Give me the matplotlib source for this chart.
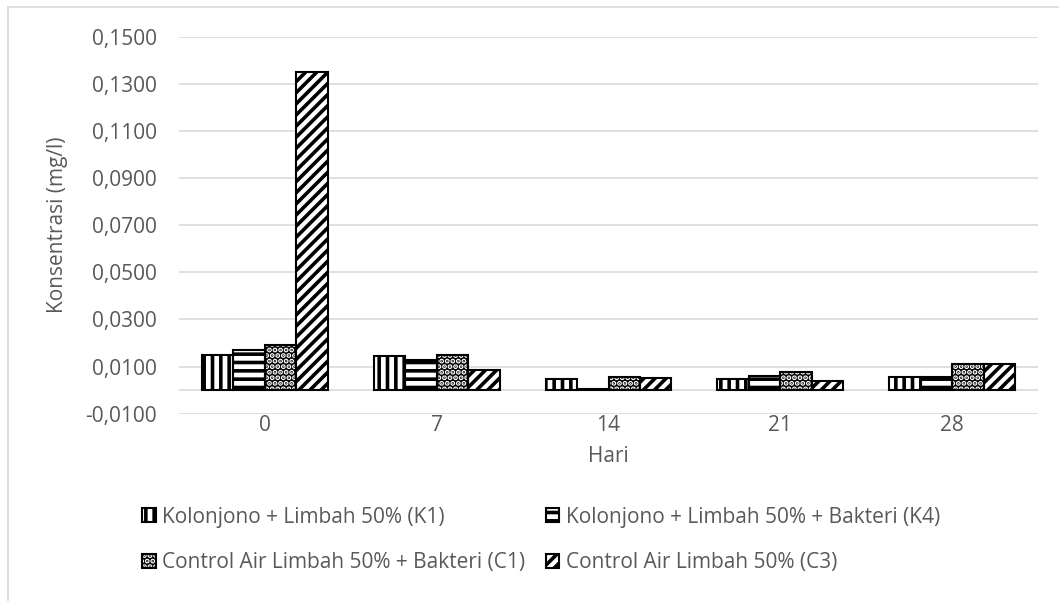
import matplotlib.pyplot as plt
from matplotlib.patches import Patch
from matplotlib.legend_handler import HandlerTuple
import numpy as np

plt.rcParams['font.family'] = ['Open Sans', 'DejaVu Sans']
plt.rcParams['hatch.linewidth'] = 2.6

# Data
hari = ['0', '7', '14', '21', '28']
K1 = [0.0150, 0.0145, 0.0047, 0.0047, 0.0054]
K4 = [0.0171, 0.0128, 0.0005, 0.0060, 0.0054]
C1 = [0.0192, 0.0151, 0.0055, 0.0079, 0.0109]
C3 = [0.1350, 0.0086, 0.0050, 0.0039, 0.0109]

labels = ['Kolonjono + Limbah 50% (K1)',
          'Kolonjono + Limbah 50% + Bakteri (K4)',
          'Control Air Limbah 50% + Bakteri (C1)',
          'Control Air Limbah 50% (C3)']
yticks = [-0.01, 0.01, 0.03, 0.05, 0.07, 0.09, 0.11, 0.13, 0.15]

txt = '#595959'
grid = '#d9d9d9'

fig = plt.figure(figsize=(10.59, 6.01), dpi=100)
ax = fig.add_axes([179 / 1059, 1 - 413.7 / 601, 859 / 1059, 377 / 601])

x = np.arange(len(hari))
w = 0.183
# (face, hatch colour, hatch) per series
styles = [('white', 'black', '||'),
          ('white', 'black', '--'),
          ('black', 'white', '...'),
          ('white', 'black', '///')]

handles = []
for i, (vals, (fc, hc, h)) in enumerate(zip([K1, K4, C1, C3], styles)):
    pos = x + (i - 1.5) * w
    ax.bar(pos, vals, w, color=fc, edgecolor=hc, hatch=h, linewidth=0, zorder=3)
    ax.bar(pos, vals, w, fill=False, edgecolor='black', linewidth=1.5, zorder=4)
    handles.append((Patch(facecolor=fc, edgecolor=hc, hatch=h, linewidth=0),
                    Patch(fill=False, edgecolor='black', linewidth=1.5)))

ax.set_xlim(-0.5, len(hari) - 0.5)
ax.set_ylim(-0.01, 0.15)
ax.set_yticks(yticks)
ax.set_yticklabels([f'{v:.4f}'.replace('.', ',') for v in yticks])
ax.set_xticks(x)
ax.set_xticklabels(hari)
ax.grid(axis='y', color=grid, linewidth=1.2, zorder=0)
ax.axhline(0, color=grid, linewidth=1.2, zorder=1)
for s in ax.spines.values():
    s.set_visible(False)
ax.tick_params(length=0, labelsize=15, labelcolor=txt)
ax.tick_params(axis='y', pad=16)
ax.tick_params(axis='x', pad=1)

ax.set_xlabel('Hari', fontsize=15, color=txt, labelpad=7)
ax.set_ylabel('Konsentrasi (mg/l)', fontsize=15, color=txt, labelpad=12)

# legend fills column by column, so order for two rows of two
order = [0, 2, 1, 3]
fig.legend([handles[i] for i in order], [labels[i] for i in order],
           ncol=2, loc='center',
           bbox_to_anchor=(541 / 1059, 1 - 540 / 601),
           handler_map={tuple: HandlerTuple(ndivide=1)},
           frameon=False, fontsize=15, labelcolor=txt,
           handlelength=0.65, handleheight=0.65, handletextpad=0.3,
           columnspacing=1.0, labelspacing=1.18)

# chart area border
fig.add_artist(plt.Line2D([8 / 1059, 1], [1 - 7 / 601] * 2, color=grid, lw=1.2))
fig.add_artist(plt.Line2D([8 / 1059] * 2, [0, 1 - 7 / 601], color=grid, lw=1.2))

fig.savefig('out.png', dpi=100)
